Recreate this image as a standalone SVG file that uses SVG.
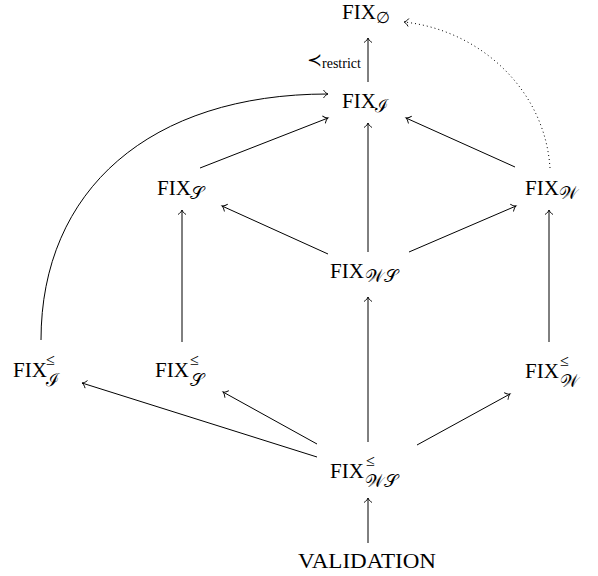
<svg xmlns="http://www.w3.org/2000/svg" width="598" height="576" viewBox="0 0 598 576">
<style>
text{font-family:"Liberation Serif","DejaVu Serif",serif;fill:#000}
.m{font-size:21px}
.s{font-size:16px}
.c{font-size:18px;font-family:"DejaVu Serif","Noto Sans","Liberation Serif",serif}
.e{fill:none;stroke:#000;stroke-width:1}
.d{fill:none;stroke:#000;stroke-width:1;stroke-dasharray:1 3}
</style>
<defs>
<marker id="a" markerUnits="userSpaceOnUse" markerWidth="12" markerHeight="12" viewBox="-6 -6 12 12" refX="0" refY="0" orient="auto" overflow="visible">
<path d="M-4.5 -4 C-3 -1.5 -1 -0.3 0 0 C-1 0.3 -3 1.5 -4.5 4" fill="none" stroke="#000" stroke-width="0.9"/>
</marker>
</defs>
<g id="connectors">
<path class="e" d="M368 82 L368 38" marker-end="url(#a)"/>
<path class="e" d="M41 340 C41 190 150 94 328 94" marker-end="url(#a)"/>
<path class="e" d="M200 168 L328 118" marker-end="url(#a)"/>
<path class="e" d="M515 167 L406 118" marker-end="url(#a)"/>
<path class="e" d="M368 252 L368 123" marker-end="url(#a)"/>
<path class="e" d="M328 254 L222 206" marker-end="url(#a)"/>
<path class="e" d="M409 252 L516 206" marker-end="url(#a)"/>
<path class="e" d="M182 342 L182 210" marker-end="url(#a)"/>
<path class="e" d="M549 342 L549 210" marker-end="url(#a)"/>
<path class="e" d="M368 442 L368 297" marker-end="url(#a)"/>
<path class="e" d="M317 444 L223 392" marker-end="url(#a)"/>
<path class="e" d="M317 457 L82 383" marker-end="url(#a)"/>
<path class="e" d="M417 445 L510 394" marker-end="url(#a)"/>
<path class="e" d="M368 543 L368 498" marker-end="url(#a)"/>
<path class="d" d="M550 168 C545 90 480 30 404 22" marker-end="url(#a)"/>
<text x="307" y="66" style="font-size:18px">≺<tspan style="font-size:14px" dy="2">restrict</tspan></text>
</g>
<g id="fix-empty"><text class="m" x="342" y="19">FIX</text><text class="s" x="376" y="23">∅</text></g>
<g id="fix-I"><text class="m" x="342" y="108">FIX</text><text class="c" x="375" y="112">ℐ</text></g>
<g id="fix-S"><text class="m" x="157" y="195">FIX</text><text class="c" x="190" y="199">𝒮</text></g>
<g id="fix-W"><text class="m" x="525" y="195">FIX</text><text class="c" x="559" y="199">𝒲</text></g>
<g id="fix-WS"><text class="m" x="330" y="278">FIX</text><text class="c" x="365" y="282">𝒲𝒮</text></g>
<g id="fix-le-I"><text class="m" x="13" y="377">FIX</text><text class="s" x="46" y="365">≤</text><text class="c" x="46" y="386">ℐ</text></g>
<g id="fix-le-S"><text class="m" x="155" y="377">FIX</text><text class="s" x="190" y="365">≤</text><text class="c" x="190" y="386">𝒮</text></g>
<g id="fix-le-W"><text class="m" x="525" y="378">FIX</text><text class="s" x="560" y="366">≤</text><text class="c" x="560" y="387">𝒲</text></g>
<g id="fix-le-WS"><text class="m" x="330" y="478">FIX</text><text class="s" x="366" y="466">≤</text><text class="c" x="365" y="487">𝒲𝒮</text></g>
<g id="validation"><text class="m" x="298" y="568" textLength="138" lengthAdjust="spacingAndGlyphs">VALIDATION</text></g>
</svg>
